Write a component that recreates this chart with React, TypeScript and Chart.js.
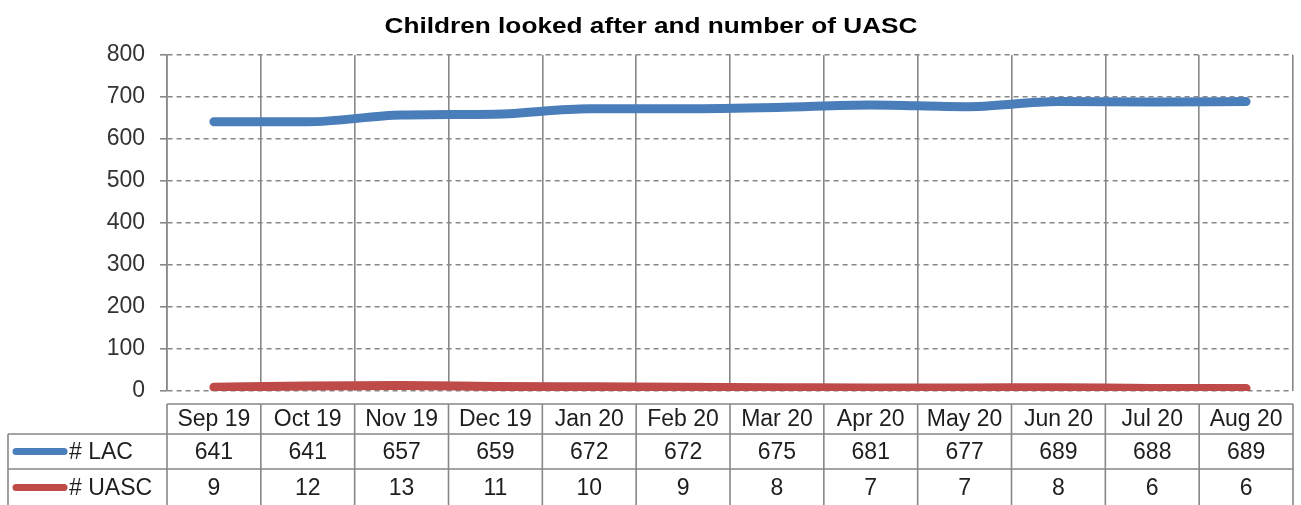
import React, { useEffect, useRef } from "react";
import { Chart, registerables } from "chart.js";

Chart.register(...registerables);

const TITLE = "Children looked after and number of UASC";
const CATEGORIES = ["Sep 19", "Oct 19", "Nov 19", "Dec 19", "Jan 20", "Feb 20", "Mar 20", "Apr 20", "May 20", "Jun 20", "Jul 20", "Aug 20"];
const LAC = [641, 641, 657, 659, 672, 672, 675, 681, 677, 689, 688, 689];
const UASC = [9, 12, 13, 11, 10, 9, 8, 7, 7, 8, 6, 6];
const SERIES_NAMES = ["# LAC", "# UASC"];
const Y_MIN = 0;
const Y_MAX = 800;
const Y_STEP = 100;

const BLUE = "#4a7ebb";
const RED = "#be4b48";
const GRID = "#878787";
const FONT = "'Liberation Sans', Arial, sans-serif";

const tablePlugin = {
  id: "dataTable",
  afterDraw(chart: any) {
    const ctx = chart.ctx as CanvasRenderingContext2D;
    const xs = chart.scales.x;
    const area = chart.chartArea;
    const n = CATEGORIES.length;
    const w = (area.right - area.left) / n;
    const left = area.left;
    const right = area.right;
    const labelLeft = 8;
    const rows = [404, 434, 469, 506];
    ctx.save();
    // title (stretched horizontally to match the reference's wide rendering)
    ctx.fillStyle = "#000";
    ctx.font = `bold 22px ${FONT}`;
    ctx.textAlign = "center";
    ctx.textBaseline = "middle";
    const tw = ctx.measureText(TITLE).width;
    const sx = 533 / tw;
    ctx.save();
    ctx.translate(651, 27);
    ctx.scale(sx, 1);
    ctx.fillText(TITLE, 0, 0);
    ctx.restore();

    ctx.strokeStyle = GRID;
    ctx.lineWidth = 1.6;
    ctx.beginPath();
    ctx.moveTo(left, rows[0]);
    ctx.lineTo(right, rows[0]);
    ctx.moveTo(labelLeft, rows[1]);
    ctx.lineTo(right, rows[1]);
    ctx.moveTo(labelLeft, rows[2]);
    ctx.lineTo(right, rows[2]);
    ctx.moveTo(labelLeft, rows[1]);
    ctx.lineTo(labelLeft, rows[3]);
    for (let i = 0; i <= n; i++) {
      const x = i < n ? xs.getPixelForValue(i) - w / 2 : xs.getPixelForValue(n - 1) + w / 2;
      ctx.moveTo(x, rows[0]);
      ctx.lineTo(x, rows[3]);
    }
    ctx.stroke();

    ctx.fillStyle = "#1e1e1e";
    ctx.font = `23px ${FONT}`;
    ctx.textAlign = "center";
    const series = [LAC, UASC];
    for (let i = 0; i < n; i++) {
      const cx = xs.getPixelForValue(i);
      ctx.fillText(CATEGORIES[i], cx, (rows[0] + rows[1]) / 2 + 1);
      for (let s = 0; s < series.length; s++) {
        ctx.fillText(String(series[s][i]), cx, (rows[s + 1] + rows[s + 2]) / 2 + 1);
      }
    }
    const colors = [BLUE, RED];
    for (let s = 0; s < SERIES_NAMES.length; s++) {
      const cy = (rows[s + 1] + rows[s + 2]) / 2;
      ctx.strokeStyle = colors[s];
      ctx.lineWidth = 7;
      ctx.lineCap = "round";
      ctx.beginPath();
      ctx.moveTo(16, cy);
      ctx.lineTo(64, cy);
      ctx.stroke();
      ctx.textAlign = "left";
      ctx.fillText(SERIES_NAMES[s], 69, cy + 1);
    }
    ctx.restore();
  },
};

export default function App() {
  const ref = useRef<HTMLCanvasElement>(null);
  useEffect(() => {
    document.body.style.margin = "0";
    const chart = new Chart(ref.current!, {
      type: "line",
      data: {
        labels: CATEGORIES,
        datasets: [
          {
            label: SERIES_NAMES[0],
            data: LAC,
            borderColor: BLUE,
            backgroundColor: BLUE,
            borderWidth: 9,
            borderCapStyle: "round",
            pointRadius: 0,
            cubicInterpolationMode: "monotone",
          },
          {
            label: SERIES_NAMES[1],
            data: UASC,
            borderColor: RED,
            backgroundColor: RED,
            borderWidth: 9,
            borderCapStyle: "round",
            pointRadius: 0,
            cubicInterpolationMode: "monotone",
          },
        ],
      },
      options: {
        animation: false,
        responsive: false,
        maintainAspectRatio: false,
        layout: { padding: { left: 0, right: 8, top: 55, bottom: 0 } },
        plugins: {
          legend: { display: false },
          title: { display: false },
          tooltip: { enabled: false },
        },
        scales: {
          x: {
            offset: true,
            grid: { offset: true, color: GRID, lineWidth: 1.6, drawTicks: false },
            border: { display: false },
            ticks: { display: false },
            afterFit: (scale: any) => {
              scale.height = 505 - 391;
            },
          },
          y: {
            min: Y_MIN,
            max: Y_MAX,
            ticks: {
              stepSize: Y_STEP,
              color: "#333",
              font: { family: FONT, size: 23 },
              padding: 15,
            },
            grid: { color: GRID, lineWidth: 1.6, tickLength: 7, tickBorderDash: [] },
            border: { display: true, color: GRID, width: 1.6, dash: [5, 4] },
            afterFit: (scale: any) => {
              scale.width = 167;
            },
          },
        },
      },
      plugins: [tablePlugin],
    });
    return () => chart.destroy();
  }, []);
  return (
    <div style={{ position: "relative", width: 1301, height: 505, background: "#fff" }}>
      <canvas ref={ref} width={1301} height={505} style={{ display: "block" }} />
    </div>
  );
}
